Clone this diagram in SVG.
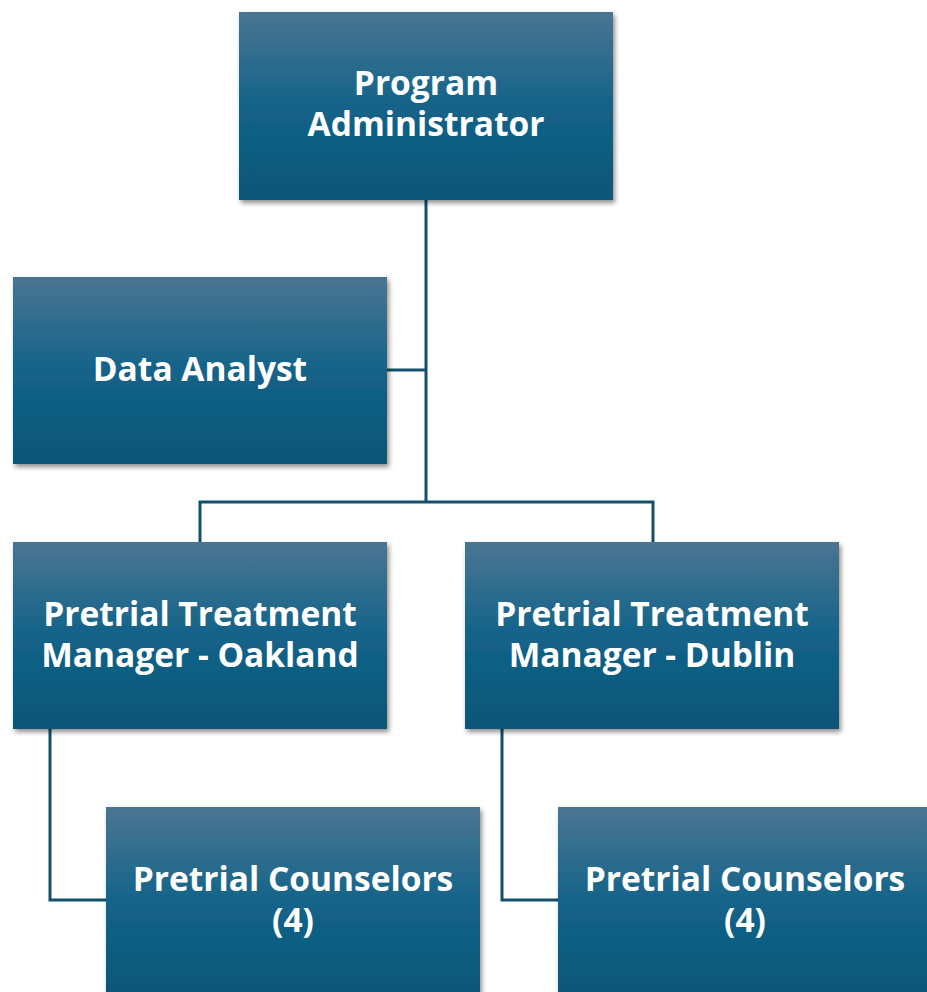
<svg xmlns="http://www.w3.org/2000/svg" width="927" height="992" viewBox="0 0 927 992">
<defs>
<linearGradient id="g" x1="0" y1="0" x2="0" y2="1">
<stop offset="0" stop-color="#4a7592"/>
<stop offset="0.5" stop-color="#136389"/>
<stop offset="1" stop-color="#0b5677"/>
</linearGradient>
<filter id="sh" x="-10%" y="-10%" width="125%" height="130%">
<feGaussianBlur in="SourceAlpha" stdDeviation="2.5"/>
<feOffset dx="2" dy="3" result="b"/>
<feComponentTransfer><feFuncA type="linear" slope="0.45"/></feComponentTransfer>
<feMerge><feMergeNode/><feMergeNode in="SourceGraphic"/></feMerge>
</filter>
<style>
.box{fill:url(#g);filter:url(#sh)}
.t{fill:#fff;font-family:"Open Sans","Liberation Sans",sans-serif;font-weight:bold;font-size:33.5px;text-anchor:middle}
.c{fill:none;stroke:#12506c;stroke-width:3}
</style>
</defs>
<rect width="927" height="992" fill="#fff"/>
<g id="connectors">
<path class="c" d="M426 200V502M387 370H426M200 542V502H653V542M50 729V900H106M502 729V900H558"/>
</g>
<g id="program-administrator">
<rect class="box" x="239" y="12" width="374" height="188"/>
<text class="t" x="426" y="95">Program</text>
<text class="t" x="426" y="136">Administrator</text>
</g>
<g id="data-analyst">
<rect class="box" x="13" y="277" width="374" height="187"/>
<text class="t" x="200" y="381">Data Analyst</text>
</g>
<g id="manager-oakland">
<rect class="box" x="13" y="542" width="374" height="187"/>
<text class="t" x="200" y="626">Pretrial Treatment</text>
<text class="t" x="200" y="667">Manager - Oakland</text>
</g>
<g id="manager-dublin">
<rect class="box" x="465" y="542" width="374" height="187"/>
<text class="t" x="652" y="626">Pretrial Treatment</text>
<text class="t" x="652" y="667">Manager - Dublin</text>
</g>
<g id="counselors-oakland">
<rect class="box" x="106" y="807" width="374" height="195"/>
<text class="t" x="293" y="891">Pretrial Counselors</text>
<text class="t" x="293" y="932">(4)</text>
</g>
<g id="counselors-dublin">
<rect class="box" x="558" y="807" width="374" height="195"/>
<text class="t" x="745" y="891">Pretrial Counselors</text>
<text class="t" x="745" y="932">(4)</text>
</g>
</svg>
